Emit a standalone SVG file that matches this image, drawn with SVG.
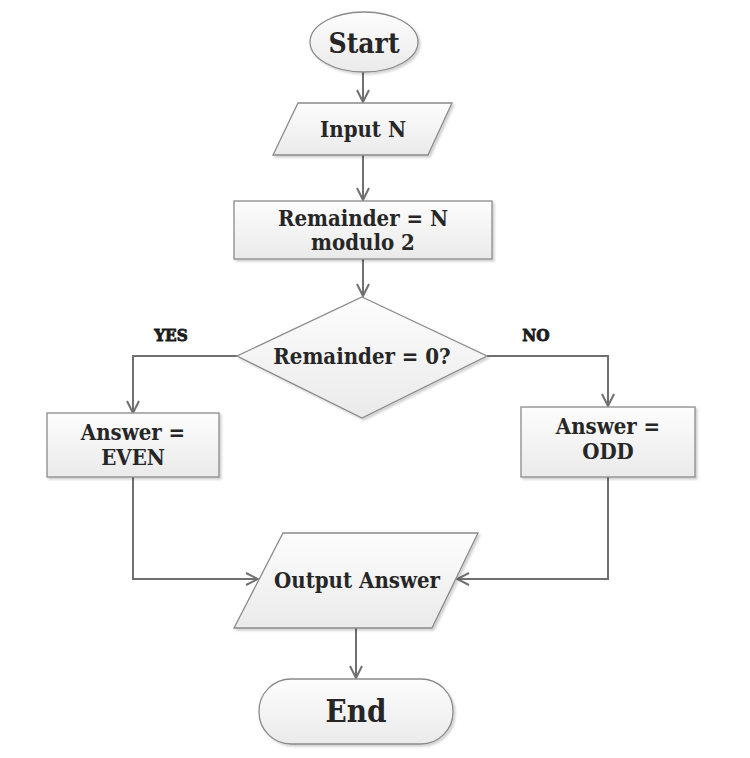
<svg xmlns="http://www.w3.org/2000/svg" width="750" height="758" viewBox="0 0 750 758">
<defs>
<linearGradient id="g" x1="0" y1="0" x2="0" y2="1">
<stop offset="0" stop-color="#fdfdfd"/>
<stop offset="1" stop-color="#eaeaea"/>
</linearGradient>
<filter id="sh" x="-10%" y="-10%" width="125%" height="130%">
<feDropShadow dx="2" dy="2" stdDeviation="1.2" flood-color="#000" flood-opacity="0.18"/>
</filter>
<marker id="ar" viewBox="0 0 14 14" refX="13" refY="7" markerWidth="14" markerHeight="14" markerUnits="userSpaceOnUse" orient="auto">
<path d="M1,1 L13,7 L1,13" fill="none" stroke="#707070" stroke-width="2"/>
</marker>
</defs>
<style>
.n{fill:url(#g);stroke:#8a8a8a;stroke-width:1.3;filter:url(#sh)}
.t{font-family:"DejaVu Serif Condensed","DejaVu Serif",serif;font-weight:bold;fill:#262626;text-anchor:middle;font-size:22px}
.big{font-size:28px}
.end{font-size:31px}
.lbl{font-family:"DejaVu Serif Condensed","DejaVu Serif",serif;font-weight:bold;fill:#1c1c1c;font-size:17px;text-anchor:middle;stroke:#1c1c1c;stroke-width:0.8}
.c{fill:none;stroke:#707070;stroke-width:2;marker-end:url(#ar)}
</style>
<rect width="750" height="758" fill="#ffffff"/>
<g id="connectors">
<path class="c" d="M363,72 V102"/>
<path class="c" d="M363,155 V200"/>
<path class="c" d="M363,258 V296"/>
<path class="c" d="M237,356 H133 V413"/>
<path class="c" d="M487,356 H608 V406"/>
<path class="c" d="M133,477 V579 H258"/>
<path class="c" d="M608,477 V579 H457"/>
<path class="c" d="M356,628 V678"/>
</g>
<g id="start">
<ellipse class="n" cx="364" cy="42" rx="54" ry="30"/>
<text class="t big" x="364" y="53">Start</text>
</g>
<g id="input">
<polygon class="n" points="298,103 452,103 428,155 273,155"/>
<text class="t" x="363" y="137">Input N</text>
</g>
<g id="remainder">
<rect class="n" x="234" y="201" width="258" height="58"/>
<text class="t" x="363" y="226">Remainder = N</text>
<text class="t" x="363" y="250">modulo 2</text>
</g>
<g id="decision">
<polygon class="n" points="362,297 487,356 362,418 237,356"/>
<text class="t" x="362" y="364">Remainder = 0?</text>
</g>
<g id="labels">
<text class="lbl" x="171" y="341">YES</text>
<text class="lbl" x="536" y="341">NO</text>
</g>
<g id="even">
<rect class="n" x="47" y="413" width="172" height="64"/>
<text class="t" x="133" y="440">Answer =</text>
<text class="t" x="133" y="465">EVEN</text>
</g>
<g id="odd">
<rect class="n" x="521" y="407" width="174" height="70"/>
<text class="t" x="608" y="434">Answer =</text>
<text class="t" x="608" y="459">ODD</text>
</g>
<g id="output">
<polygon class="n" points="283,533 478,533 432,628 234,628"/>
<text class="t" x="357" y="588">Output Answer</text>
</g>
<g id="end">
<rect class="n" x="259" y="679" width="194" height="65" rx="32" ry="32"/>
<text class="t end" x="356" y="722">End</text>
</g>
</svg>
